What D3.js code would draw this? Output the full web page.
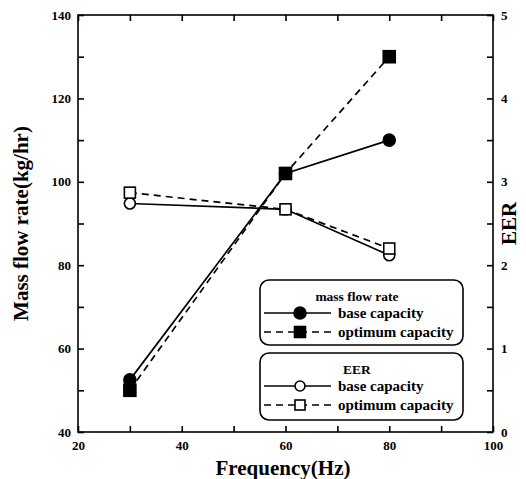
<!DOCTYPE html>
<html><head><meta charset="utf-8">
<script src="https://cdn.jsdelivr.net/npm/d3@7"></script>
<style>
html,body{margin:0;padding:0;background:#fff;}
svg text{font-family:"Liberation Serif","DejaVu Serif",serif;font-weight:bold;fill:#000;}
</style></head>
<body><svg id="c" width="526" height="479"></svg>
<script>
const freq = [30, 60, 80];
const massBase = [52.5, 102, 110];
const massOpt = [50, 102, 130];
const eerBase = [2.74, 2.67, 2.12];
const eerOpt = [2.87, 2.67, 2.20];
const xTickLabels = [20, 40, 60, 80, 100];
const yLeftTickLabels = [40, 60, 80, 100, 120, 140];
const yRightTickLabels = [0, 1, 2, 3, 4, 5];

const L = 78, R = 493, T = 15, B = 432;
const svg = d3.select("#c");
const x = d3.scaleLinear().domain([20, 100]).range([L, R]);
const yL = d3.scaleLinear().domain([40, 140]).range([B, T]);
const yR = d3.scaleLinear().domain([0, 5]).range([B, T]);

svg.append("rect").attr("x", L).attr("y", T).attr("width", R - L).attr("height", B - T)
  .attr("fill", "none").attr("stroke", "#000").attr("stroke-width", 1.6);

const minorX = d3.range(20, 101, 10);
const minorYL = d3.range(40, 141, 10);
const minorYR = d3.range(0, 5.01, 0.5);

function styleAxis(g) {
  g.select(".domain").remove();
  g.selectAll(".tick line").attr("stroke", "#000").attr("stroke-width", 1.6);
  g.selectAll(".tick text").style("font-size", "13px");
}
svg.append("g").attr("transform", `translate(0,${B})`)
  .call(d3.axisBottom(x).tickValues(minorX).tickSize(-6).tickPadding(9)
    .tickFormat(d => xTickLabels.includes(d) ? d : ""))
  .call(styleAxis);
svg.append("g").attr("transform", `translate(0,${T})`)
  .call(d3.axisTop(x).tickValues(minorX).tickSize(-6).tickFormat(""))
  .call(styleAxis);
svg.append("g").attr("transform", `translate(${L},0)`)
  .call(d3.axisLeft(yL).tickValues(minorYL).tickSize(-6).tickPadding(7)
    .tickFormat(d => yLeftTickLabels.includes(d) ? d : ""))
  .call(styleAxis);
svg.append("g").attr("transform", `translate(${R},0)`)
  .call(d3.axisRight(yR).tickValues(minorYR).tickSize(-6).tickPadding(8)
    .tickFormat(d => yRightTickLabels.includes(d) ? d : ""))
  .call(styleAxis);

svg.append("text").attr("x", 283).attr("y", 475).attr("text-anchor", "middle")
  .style("font-size", "21px").text("Frequency(Hz)");
svg.append("text").attr("transform", `translate(28,${(T + B) / 2}) rotate(-90)`)
  .attr("text-anchor", "middle").style("font-size", "21px").text("Mass flow rate(kg/hr)");
svg.append("text").attr("transform", `translate(516,${(T + B) / 2}) rotate(-90)`)
  .attr("text-anchor", "middle").style("font-size", "21px").text("EER");

const lineL = d3.line().x(d => x(d[0])).y(d => yL(d[1]));
const lineR = d3.line().x(d => x(d[0])).y(d => yR(d[1]));
const zip = (a, b) => a.map((v, i) => [v, b[i]]);

svg.append("path").attr("d", lineR(zip(freq, eerOpt))).attr("fill", "none")
  .attr("stroke", "#000").attr("stroke-width", 1.7).attr("stroke-dasharray", "7,5");
svg.append("path").attr("d", lineR(zip(freq, eerBase))).attr("fill", "none")
  .attr("stroke", "#000").attr("stroke-width", 1.7);
svg.append("path").attr("d", lineL(zip(freq, massOpt))).attr("fill", "none")
  .attr("stroke", "#000").attr("stroke-width", 1.7).attr("stroke-dasharray", "7,5");
svg.append("path").attr("d", lineL(zip(freq, massBase))).attr("fill", "none")
  .attr("stroke", "#000").attr("stroke-width", 1.7);

function circle(g, cx, cy, r, filled) {
  g.append("circle").attr("cx", cx).attr("cy", cy).attr("r", r)
    .attr("fill", filled ? "#000" : "#fff").attr("stroke", "#000").attr("stroke-width", 1.6);
}
function square(g, cx, cy, s, filled) {
  g.append("rect").attr("x", cx - s / 2).attr("y", cy - s / 2).attr("width", s).attr("height", s)
    .attr("fill", filled ? "#000" : "#fff").attr("stroke", "#000").attr("stroke-width", 1.6);
}
freq.forEach((f, i) => circle(svg, x(f), yR(eerBase[i]), 5.5, false));
freq.forEach((f, i) => square(svg, x(f), yR(eerOpt[i]), 11, false));
freq.forEach((f, i) => circle(svg, x(f), yL(massBase[i]), 6, true));
freq.forEach((f, i) => square(svg, x(f), yL(massOpt[i]), 12, true));

function legend(y0, h, title, filled) {
  const g = svg.append("g");
  g.append("rect").attr("x", 260).attr("y", y0).attr("width", 203).attr("height", h)
    .attr("rx", 9).attr("fill", "#fff").attr("stroke", "#000").attr("stroke-width", 1.6);
  g.append("text").attr("x", 357).attr("y", y0 + 21).attr("text-anchor", "middle")
    .style("font-size", "13.5px").text(title);
  const y1 = y0 + 33, y2 = y0 + 52;
  g.append("line").attr("x1", 264).attr("x2", 331).attr("y1", y1).attr("y2", y1)
    .attr("stroke", "#000").attr("stroke-width", 1.6);
  g.append("line").attr("x1", 264).attr("x2", 331).attr("y1", y2).attr("y2", y2)
    .attr("stroke", "#000").attr("stroke-width", 1.6).attr("stroke-dasharray", "7,5");
  circle(g, 300, y1, filled ? 6 : 5, filled);
  square(g, 300, y2, filled ? 11 : 10, filled);
  g.append("text").attr("x", 338).attr("y", y1 + 5).style("font-size", "15px").text("base capacity");
  g.append("text").attr("x", 338).attr("y", y2 + 5).style("font-size", "15px").text("optimum capacity");
}
legend(280, 65, "mass flow rate", true);
legend(353, 67, "EER", false);
</script></body></html>
